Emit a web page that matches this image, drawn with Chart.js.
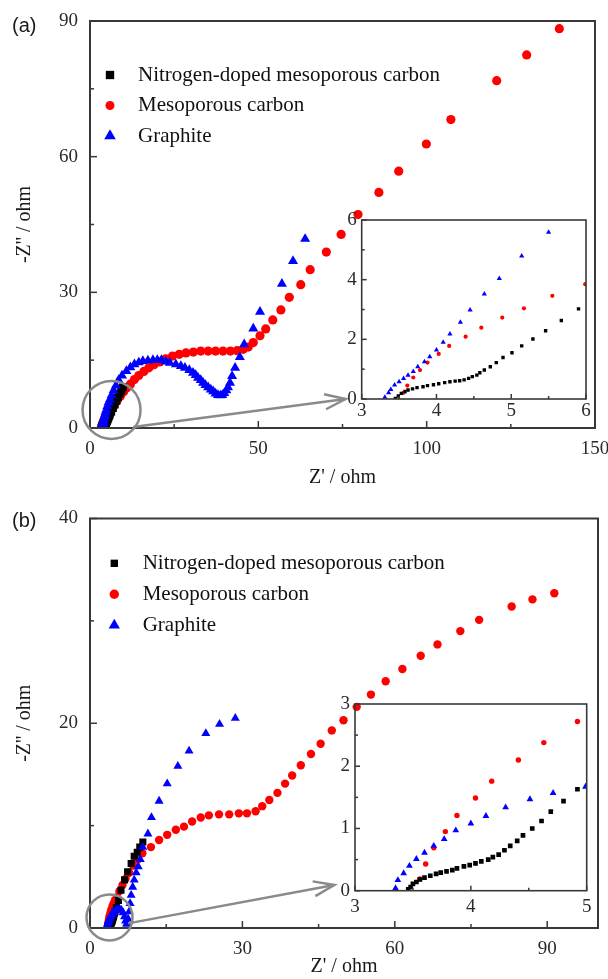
<!DOCTYPE html>
<html>
<head>
<meta charset="utf-8">
<script src="https://cdn.jsdelivr.net/npm/chart.js@4.4.1/dist/chart.umd.min.js"></script>
<style>
  body { margin: 0; background: #fff; }
  #page { position: relative; width: 608px; height: 979px; overflow: hidden; }
  canvas { position: absolute; }
  .tag { position: absolute; font: 20px "Liberation Sans", Arial, sans-serif; line-height: 24px; color: #1a1a1a; }
</style>
</head>
<body>
<div id="page">
  <canvas id="mainA" width="608" height="490" style="left:0;top:0"></canvas>
  <canvas id="insetA" width="288" height="230" style="left:320px;top:200px"></canvas>
  <canvas id="mainB" width="608" height="491" style="left:0;top:488px"></canvas>
  <canvas id="insetB" width="298" height="240" style="left:310px;top:690px"></canvas>
  <div class="tag" style="left:12px;top:13px">(a)</div>
  <div class="tag" style="left:12px;top:508px">(b)</div>
</div>
<script>
const seriesNames = ['Nitrogen-doped mesoporous carbon', 'Mesoporous carbon', 'Graphite'];

// panel (a)
const aBlackX = [3.45,3.49,3.53,3.58,3.62,3.68,3.74,3.82,3.88,3.96,4.03,4.11,4.18,4.25,4.31,4.37,4.43,4.48,4.54,4.58,4.64,4.72,4.80,4.89,5.01,5.14,5.29,5.46,5.67,5.90,6.3,6.8,7.3,7.8,8.3,8.8,9.3,9.8];
const aBlackY = [0.02,0.10,0.19,0.25,0.30,0.34,0.38,0.41,0.45,0.48,0.51,0.55,0.58,0.60,0.61,0.64,0.69,0.75,0.80,0.88,0.97,1.08,1.22,1.39,1.55,1.78,2.01,2.29,2.63,3.02,3.6,4.4,5.2,6.0,6.8,7.6,8.3,9.0];
const aRedX = [3.56,3.61,3.69,3.78,3.88,4.03,4.17,4.39,4.60,4.88,5.17,5.55,5.99,6.5,7.2,8,9,10,11,12,13.2,14.5,16,17.5,19,20.7,22.5,24.5,26.5,28.5,30.7,32.9,35.1,37.3,39.5,41.7,43.7,45.5,47,48.5,50.5,52.2,54.3,56.7,59.2,62.6,65.4,70.2,74.6,79.6,85.8,91.7,99.9,107.2,120.8,129.7,139.4];
const aRedY = [0.21,0.45,0.72,0.97,1.22,1.51,1.78,2.09,2.39,2.73,3.04,3.46,3.85,4.3,5.0,5.9,7.0,8.0,8.9,9.7,10.7,11.6,12.5,13.3,14.0,14.6,15.3,15.9,16.3,16.6,16.8,17.0,17.0,17.0,17.0,17.0,17.1,17.4,17.9,18.9,20.4,21.9,23.9,26.1,28.9,31.7,35.0,38.9,42.8,47.2,52.1,56.8,62.8,68.2,76.8,82.5,88.3];
const aBlueX = [3.31,3.36,3.39,3.44,3.50,3.56,3.62,3.69,3.75,3.84,3.91,4.0,4.09,4.18,4.32,4.45,4.64,4.84,5.14,5.50,5.9,6.4,7.0,7.7,8.5,9.5,10.8,12.0,13.2,14.5,15.7,17.2,18.7,20.0,21.2,22.5,23.7,25.5,27.0,28.2,29.5,30.6,31.4,32.1,32.9,33.6,34.3,35.1,35.9,36.6,37.3,38.0,38.7,39.3,39.9,40.5,41.0,41.6,42.2,43.1,44.5,45.8,48.5,50.5,57.0,60.3,63.9];
const aBlueY = [0.06,0.21,0.32,0.47,0.58,0.69,0.80,0.92,1.08,1.25,1.42,1.64,1.90,2.18,2.57,2.98,3.52,4.04,4.79,5.59,6.3,7.2,8.3,9.4,10.6,11.6,12.6,13.4,14.1,14.5,14.8,14.9,15.0,15.0,15.0,14.7,14.4,14.1,13.7,13.3,12.8,12.2,11.7,11.1,10.6,10.0,9.5,9.0,8.5,8.1,7.6,7.3,7.2,7.3,7.7,8.3,9.0,10.0,11.5,13.3,15.7,18.5,22.0,25.7,31.9,36.9,41.8];
const aXTicks = [0, 50, 100, 150];
const aYTicks = [0, 30, 60, 90];
const aInXTicks = [3, 4, 5, 6];
const aInYTicks = [0, 2, 4, 6];

// panel (b)
const bBlackX = [3.46,3.48,3.50,3.53,3.56,3.60,3.65,3.70,3.74,3.79,3.84,3.88,3.94,3.99,4.04,4.09,4.15,4.19,4.24,4.29,4.34,4.40,4.45,4.53,4.61,4.69,4.80,4.92,5.2,5.6,6.1,6.8,7.4,8.1,8.7,9.3,9.8,10.4];
const bBlackY = [0.02,0.06,0.11,0.14,0.18,0.21,0.24,0.27,0.29,0.31,0.33,0.36,0.39,0.41,0.44,0.47,0.50,0.54,0.58,0.65,0.72,0.80,0.89,1.00,1.12,1.27,1.44,1.63,2.0,2.7,3.7,4.7,5.5,6.3,7.0,7.4,7.9,8.4];
const bRedX = [3.56,3.61,3.68,3.78,3.88,4.04,4.18,4.41,4.63,4.92,5.3,5.8,6.4,7.0,7.7,8.5,9.4,10.3,12.0,13.6,15.2,16.9,18.5,20.1,21.8,23.4,25.4,27.4,29.3,30.9,32.6,33.9,35.3,36.9,38.4,39.8,41.5,43.5,45.4,47.6,49.9,52.5,55.3,58.2,61.5,65.1,68.4,72.9,76.6,83.0,87.1,91.4];
const bRedY = [0.19,0.43,0.69,0.95,1.21,1.49,1.76,2.10,2.38,2.72,3.0,3.6,4.2,4.8,5.4,6.1,6.7,7.3,7.9,8.6,9.1,9.6,9.9,10.4,10.8,11.0,11.1,11.1,11.2,11.2,11.4,11.9,12.5,13.2,14.1,14.9,15.9,17.0,18.0,19.3,20.3,21.6,22.8,24.1,25.3,26.6,27.7,29.0,30.1,31.4,32.1,32.7];
const bBlueX = [3.35,3.37,3.42,3.47,3.53,3.60,3.68,3.77,3.87,4.0,4.13,4.30,4.51,4.71,4.99,5.3,5.8,6.2,6.5,6.8,7.0,7.2,7.4,7.5,7.7,7.9,8.1,8.4,8.7,9.1,9.5,9.9,10.4,11.4,12.1,13.6,15.2,17.3,19.5,22.8,25.5,28.6];
const bBlueY = [0.04,0.17,0.28,0.40,0.51,0.61,0.72,0.83,0.97,1.08,1.20,1.34,1.47,1.57,1.67,1.78,1.88,1.75,1.5,1.1,0.7,0.4,0.4,0.9,1.6,2.4,3.2,4.0,4.7,5.4,6.0,6.7,7.9,9.2,10.8,12.4,14.1,15.8,17.3,19.0,19.9,20.5];
const bXTicks = [0, 30, 60, 90];
const bXMax = 100;
const bYTicks = [0, 20, 40];
const bInXTicks = [3, 4, 5];
const bInYTicks = [0, 1, 2, 3];

// magnifier circle and arrow, in data units of the main plots
const aZoomCenter = [6.4, 4.0], aArrowFrom = [12.8, 0.2], aArrowTo = [75.9, 6.4];
const bZoomCenter = [3.84, 1.03], bArrowFrom = [7.5, 0.45], bArrowTo = [48.1, 4.2];

const serif = '"Liberation Serif", "Times New Roman", serif';

function pts(xs, ys) { return xs.map((x, i) => ({ x: x, y: ys[i] })); }

function sets(black, red, blue, size) {
  return [
    { label: seriesNames[0], data: black, pointStyle: 'rect', pointRadius: size[0], backgroundColor: '#000000', order: 1 },
    { label: seriesNames[1], data: red, pointStyle: 'circle', pointRadius: size[1], backgroundColor: '#ff0000', order: 2 },
    { label: seriesNames[2], data: blue, pointStyle: 'triangle', pointRadius: size[2], backgroundColor: '#0000ff', order: 0 }
  ].map(d => Object.assign(d, { pointBorderWidth: 0, pointHoverRadius: d.pointRadius, clip: 0 }));
}

const deco = {
  mainA: { frame: 2, tick: [7, 4], legend: { x: 20, y: 54, step: 30.5, tx: 48, r: [5.9, 4.5, 6.7] },
           zoom: { c: aZoomCenter, r: 29, from: aArrowFrom, to: aArrowTo } },
  insetA: { frame: 1.6, tick: [5, 3] },
  mainB: { frame: 2, tick: [7, 4], legend: { x: 24.3, y: 44.8, step: 31, tx: 52.7, r: [5.2, 4.7, 6.5] },
           zoom: { c: bZoomCenter, r: 23, from: bArrowFrom, to: bArrowTo } },
  insetB: { frame: 1.6, tick: [5, 3] }
};

const decoPlugin = {
  id: 'deco',
  afterDatasetsDraw(chart) {
    const o = deco[chart.canvas.id];
    const { ctx, chartArea: a } = chart;
    const sx = chart.scales.x, sy = chart.scales.y;
    ctx.save();
    ctx.strokeStyle = '#383838';
    ctx.lineWidth = o.frame;
    ctx.strokeRect(a.left, a.top, a.right - a.left, a.bottom - a.top);

    // inward ticks, minor ones halfway between the labelled ones
    ctx.lineWidth = 1.5;
    const marks = (scale, horiz) => {
      const major = scale.ticks.map(t => t.value);
      const step = major[1] - major[0];
      const minor = [];
      for (let v = major[0] - step / 2; v <= scale.max + 1e-9; v += step) if (v >= scale.min) minor.push(v);
      [[minor, o.tick[1]], [major, o.tick[0]]].forEach(([vals, len]) => {
        vals.forEach(v => {
          const p = scale.getPixelForValue(v);
          ctx.beginPath();
          if (horiz) { ctx.moveTo(p, a.bottom); ctx.lineTo(p, a.bottom - len); }
          else { ctx.moveTo(a.left, p); ctx.lineTo(a.left + len, p); }
          ctx.stroke();
        });
      });
    };
    marks(sx, true);
    marks(sy, false);

    if (o.legend) {
      const L = o.legend;
      const styles = ['rect', 'circle', 'triangle'], colors = ['#000000', '#ff0000', '#0000ff'];
      ctx.font = '21px ' + serif;
      ctx.textBaseline = 'middle';
      ctx.textAlign = 'left';
      seriesNames.forEach((name, i) => {
        const y = a.top + L.y + i * L.step;
        ctx.fillStyle = colors[i];
        Chart.helpers.drawPoint(ctx, { pointStyle: styles[i], radius: L.r[i], rotation: 0, borderWidth: 0 }, a.left + L.x, y);
        ctx.fillStyle = '#111111';
        ctx.fillText(name, a.left + L.tx, y);
      });
    }

    if (o.zoom) {
      const Z = o.zoom;
      ctx.strokeStyle = '#8a8a8a';
      ctx.lineWidth = 2.5;
      ctx.beginPath();
      ctx.arc(sx.getPixelForValue(Z.c[0]), sy.getPixelForValue(Z.c[1]), Z.r, 0, Math.PI * 2);
      ctx.stroke();
      const x0 = sx.getPixelForValue(Z.from[0]), y0 = sy.getPixelForValue(Z.from[1]);
      const x1 = sx.getPixelForValue(Z.to[0]), y1 = sy.getPixelForValue(Z.to[1]);
      ctx.beginPath();
      ctx.moveTo(x0, y0);
      ctx.lineTo(x1, y1);
      ctx.stroke();
      const ang = Math.atan2(y1 - y0, x1 - x0);
      ctx.beginPath();
      ctx.moveTo(x1 - 22 * Math.cos(ang - 0.35), y1 - 22 * Math.sin(ang - 0.35));
      ctx.lineTo(x1, y1);
      ctx.lineTo(x1 - 22 * Math.cos(ang + 0.35), y1 - 22 * Math.sin(ang + 0.35));
      ctx.stroke();
    }
    ctx.restore();
  }
};

function axis(ticks, max, pad, fit, title, titlePad) {
  return {
    type: 'linear', min: ticks[0], max: max,
    afterBuildTicks: s => { s.ticks = ticks.map(v => ({ value: v })); },
    ticks: { padding: pad, color: '#2a2a2a', font: { family: serif, size: 19 }, maxRotation: 0, autoSkip: false, includeBounds: false },
    grid: { display: false, drawTicks: false },
    border: { display: false },
    title: { display: !!title, text: title || '', color: '#1a1a1a', font: { family: serif, size: 20 }, padding: titlePad },
    afterFit: fit
  };
}

function makePanel(id, c) {
  const cv = document.getElementById(id);
  const W = cv.width, H = cv.height, A = c.area;
  return new Chart(cv, {
    type: 'scatter',
    data: { datasets: sets(c.black, c.red, c.blue, c.size) },
    options: {
      responsive: false, animation: false, events: [],
      layout: { padding: { left: 0, top: A.t, right: W - A.r, bottom: 0 } },
      plugins: { legend: { display: false }, tooltip: { enabled: false } },
      scales: {
        x: axis(c.xTicks, c.xMax, c.xPad, s => { s.height = H - A.b; s.paddingLeft = 0; s.paddingRight = 0; }, c.xTitle, 0),
        y: axis(c.yTicks, c.yTicks[c.yTicks.length - 1], c.yPad, s => { s.width = A.l; s.paddingTop = 0; s.paddingBottom = 0; }, c.yTitle, 13)
      }
    },
    plugins: [decoPlugin]
  });
}

const aBlack = pts(aBlackX, aBlackY), aRed = pts(aRedX, aRedY), aBlue = pts(aBlueX, aBlueY);
const bBlack = pts(bBlackX, bBlackY), bRed = pts(bRedX, bRedY), bBlue = pts(bBlueX, bBlueY);

makePanel('mainA', { black: aBlack, red: aRed, blue: aBlue, size: [5.6, 4.6, 5.8],
  area: { l: 90, t: 21, r: 595, b: 428 }, xTicks: aXTicks, xMax: aXTicks[aXTicks.length - 1], yTicks: aYTicks,
  xPad: 9.6, yPad: 12, xTitle: "Z' / ohm", yTitle: "-Z'' / ohm" });

makePanel('insetA', { black: aBlack, red: aRed, blue: aBlue, size: [2.4, 2.1, 3.0],
  area: { l: 41.7, t: 20, r: 266, b: 199 }, xTicks: aInXTicks, xMax: aInXTicks[aInXTicks.length - 1], yTicks: aInYTicks,
  xPad: 0.5, yPad: 5 });

makePanel('mainB', { black: bBlack, red: bRed, blue: bBlue, size: [5.0, 4.2, 5.2],
  area: { l: 90, t: 30.5, r: 598, b: 440 }, xTicks: bXTicks, xMax: bXMax, yTicks: bYTicks,
  xPad: 9.6, yPad: 12, xTitle: "Z' / ohm", yTitle: "-Z'' / ohm" });

makePanel('insetB', { black: bBlack, red: bRed, blue: bBlue, size: [3.3, 2.7, 3.9],
  area: { l: 45, t: 14, r: 276.7, b: 200.7 }, xTicks: bInXTicks, xMax: bInXTicks[bInXTicks.length - 1], yTicks: bInYTicks,
  xPad: 5, yPad: 5 });
</script>
</body>
</html>
